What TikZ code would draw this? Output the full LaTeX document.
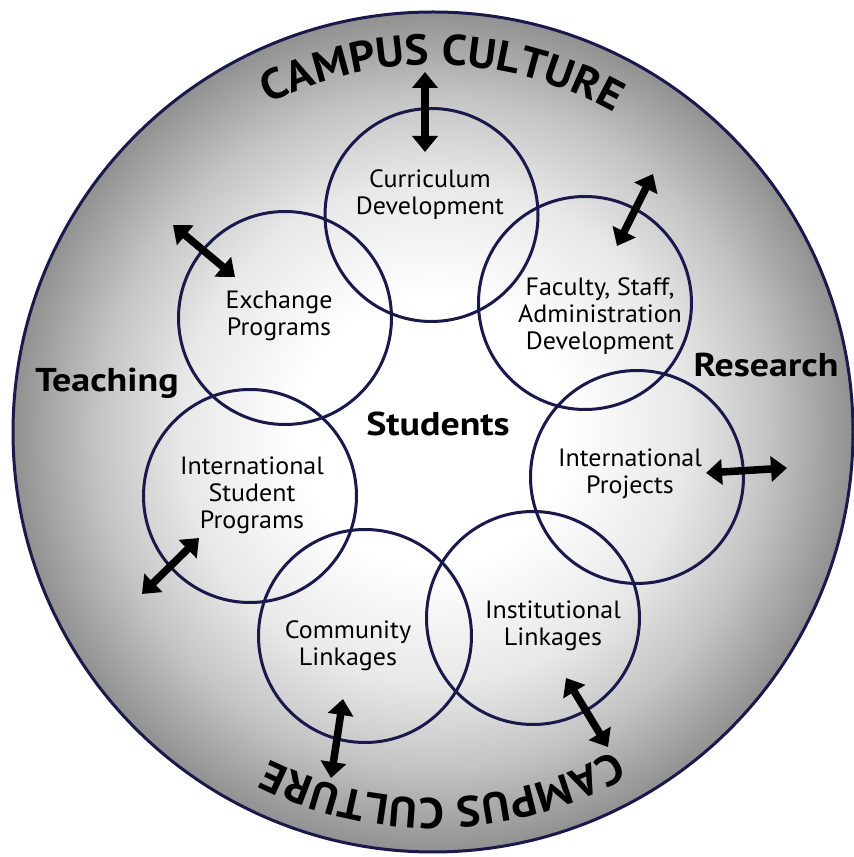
\documentclass[tikz,border=0pt]{standalone}
\usepackage{fontspec}
\setmainfont{PT Sans}[FakeStretch=1.04]
\newfontfamily\widebold{PT Sans}[FakeStretch=1.15]
\newfontfamily\arcbold{PT Sans}[FakeStretch=1.05]
\usetikzlibrary{arrows.meta,decorations.text}
\definecolor{navy}{RGB}{25,25,75}
\definecolor{shadeA}{RGB}{232,232,232}
\definecolor{shadeB}{RGB}{196,196,196}
\definecolor{shadeC}{RGB}{145,145,145}
\pgfdeclareradialshading{campus}{\pgfpoint{0bp}{0bp}}{color(0bp)=(white); color(8bp)=(white); color(15bp)=(shadeA); color(20bp)=(shadeB); color(25bp)=(shadeC); color(50bp)=(shadeC)}
\newcommand\lblfont{\fontsize{25}{27}\selectfont}
\newcommand\boldlbl{\widebold\bfseries\fontsize{33}{38}\selectfont}
\newcommand\campusfont{\arcbold\bfseries\fontsize{43}{50}\selectfont}
\tikzset{
  ring/.style={circle, draw=navy, line width=3pt, minimum size=213pt, inner sep=0pt},
  lbl/.style={align=center, font=\lblfont, inner sep=0pt},
  blbl/.style={font=\boldlbl, inner sep=0pt, anchor=base},
  dblarrow/.style={{Triangle[length=16pt,width=25pt]}-{Triangle[length=16pt,width=25pt]}, line width=7.5pt, black},
}
\begin{document}
\begin{tikzpicture}[x=1pt,y=1pt]
\useasboundingbox (0,0) rectangle (854,857);
\coordinate (C) at (433,425);
\node[circle, draw=navy, line width=3pt, minimum size=840pt, inner sep=0pt, shading=campus] (big) at (C) {};
% small circles
\node[ring] (cur) at (431.5,642) {};
\node[ring] (fac) at (585,554) {};
\node[ring] (proj) at (637,380) {};
\node[ring] (inst) at (533,239) {};
\node[ring] (comm) at (365,221) {};
\node[ring] (isp) at (250,361) {};
\node[ring] (exch) at (285,539) {};
% labels
\node[lbl] (tcur) at (430,662) {Curriculum\\Development};
\node[lbl] (texch) at (279,541) {Exchange\\Programs};
\node[lbl] (tfac) at (600,541) {Faculty, Staff,\\Administration\\Development};
\node[lbl] (tisp) at (252,362) {International\\Student\\Programs};
\node[lbl] (tproj) at (630,383) {International\\Projects};
\node[lbl] (tcomm) at (348,211) {Community\\Linkages};
\node[lbl] (tinst) at (553,231) {Institutional\\Linkages};
\node[blbl] (teach) at (107,465) {Teaching};
\node[blbl] (res) at (766,480) {Research};
\node[blbl] (stud) at (438,421) {Students};
% arc texts
\path[decorate, decoration={text along path, text={|\campusfont|CAMPUS CULTURE}, text align=center}]
  ([shift={(148.5:367pt)}]C) arc[start angle=148.5, end angle=28.5, radius=367pt];
\path[decorate, decoration={text along path, text={|\campusfont|CAMPUS CULTURE}, text align=center}]
  ([shift={(-28.5:366pt)}]C) arc[start angle=-28.5, end angle=-148.5, radius=366pt];
% arrows
\coordinate (a1s) at (425,785); \coordinate (a1e) at (425,705);
\coordinate (a2s) at (653,683); \coordinate (a2e) at (617,611);
\coordinate (a3s) at (173,632); \coordinate (a3e) at (235,580);
\coordinate (a4s) at (706,384); \coordinate (a4e) at (787,389);
\coordinate (a5s) at (199,319); \coordinate (a5e) at (142,263);
\coordinate (a6s) at (343,158); \coordinate (a6e) at (331,79);
\coordinate (a7s) at (566,179); \coordinate (a7e) at (608,110);
\draw[dblarrow] (a1s) -- (a1e);
\draw[dblarrow] (a2s) -- (a2e);
\draw[dblarrow] (a3s) -- (a3e);
\draw[dblarrow] (a4s) -- (a4e);
\draw[dblarrow] (a5s) -- (a5e);
\draw[dblarrow] (a6s) -- (a6e);
\draw[dblarrow] (a7s) -- (a7e);
\end{tikzpicture}
\end{document}
